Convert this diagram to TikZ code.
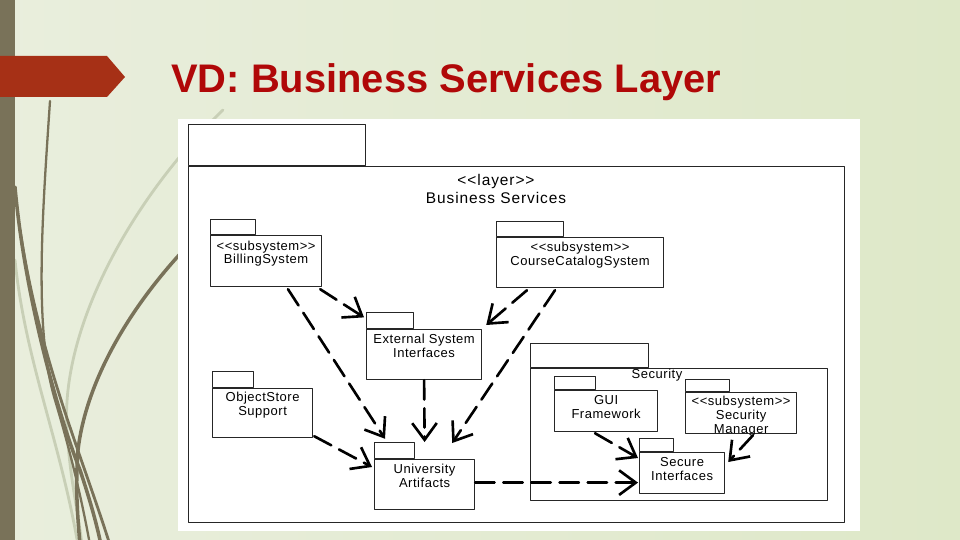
\documentclass[tikz,border=0pt]{standalone}
\usepackage{fontspec}
\setmainfont{Liberation Sans}
\newfontfamily\umlfont[LetterSpace=4]{Liberation Sans}
\newfontfamily\layerfont[LetterSpace=6]{Liberation Sans}
\usepackage{tikz}
\usetikzlibrary{calc,arrows.meta,positioning}

\definecolor{bgleft}{RGB}{233,238,221}
\definecolor{bgright}{RGB}{222,232,200}
\definecolor{barolive}{RGB}{121,114,89}
\definecolor{grasslight}{RGB}{200,207,182}
\definecolor{arrowred}{RGB}{166,48,22}
\definecolor{titlered}{RGB}{176,8,8}
\newcommand\pxu{0.02cm}

\begin{document}
\begin{tikzpicture}[x=0.02cm,y=-0.02cm,
  line cap=round,
  line join=round,
  pkg/.style={draw=black!85,fill=white,line width=0.7pt,inner sep=0pt,anchor=north west},
  pkgtab/.style={draw=black!85,fill=white,line width=0.7pt,inner sep=0pt},
  pkgtext/.style={font=\umlfont\fontsize{7.4}{7.9}\selectfont,align=center,
    inner sep=0pt},
  dep/.style={line width=1.5pt,dash pattern=on 11pt off 5pt,
    -{Straight Barb[length=9.5pt,width=14pt]}}]

  % Folie: Hintergrund
  \useasboundingbox (0,0) rectangle (960,540);
  \shade[left color=bgleft,right color=bgright] (0,0) rectangle (960,540);

  % Graeser links
  \begin{scope}
  \clip (0,0) rectangle (960,540);
  \draw[grasslight,line width=1.6pt] (223,110) .. controls (130,200) and (60,330) .. (67,430)
    .. controls (70,480) and (78,510) .. (82,545);
  \draw[grasslight,line width=1.6pt] (15,260) .. controls (25,360) and (60,440) .. (78,545);
  \draw[barolive,line width=1.3pt] (50,101) .. controls (42,220) and (34,330) .. (55,400)
    .. controls (70,450) and (82,500) .. (90,545);
  \draw[barolive,line width=2pt] (15,187) .. controls (25,300) and (60,420) .. (80,470)
    .. controls (90,500) and (97,525) .. (101,545);
  \draw[barolive,line width=2pt] (180,254) .. controls (120,320) and (85,390) .. (78,450)
    .. controls (75,490) and (78,520) .. (80,545);
  \draw[barolive,line width=1.6pt] (20,230) .. controls (40,360) and (80,450) .. (110,545);
  \end{scope}

  \fill[barolive] (0,0) rectangle (15,540);
  \fill[arrowred] (0,56) -- (107,56) -- (125,77) -- (107,97) -- (0,97) -- cycle;

  % Titel
  \node[anchor=base west,inner sep=0pt,text=titlered,
    font=\fontsize{22.7}{27}\selectfont\bfseries] (title) at (171,93)
    {VD: Business Services Layer};

  % Bild
  \fill[white] (178,119) rectangle (860,531);

  % Schicht Business Services
  \node[pkg,minimum width=656*\pxu,minimum height=356*\pxu] (layer) at (188,166) {};
  \node[pkgtab,minimum width=177*\pxu,minimum height=41*\pxu,
    above right=0pt and 0pt of layer.north west] (layertab) {};
  \node[inner sep=0pt,align=center,font=\layerfont\fontsize{8.8}{9.8}\selectfont]
    (layertxt) at (496,189) {<{}<layer>{}>\\Business Services};

  % Pakete
  \node[pkg,minimum width=111*\pxu,minimum height=51*\pxu] (billing) at (210,235) {};
  \node[pkgtab,minimum width=45*\pxu,minimum height=15*\pxu,
    above right=0pt and 0pt of billing.north west] (billingtab) {};
  \node[pkgtext,below=3pt of billing.north] (billingtxt) {<{}<subsystem>{}>\\BillingSystem};

  \node[pkg,minimum width=167*\pxu,minimum height=50*\pxu] (course) at (496,237) {};
  \node[pkgtab,minimum width=67*\pxu,minimum height=15*\pxu,
    above right=0pt and 0pt of course.north west] (coursetab) {};
  \node[pkgtext,below=2.7pt of course.north] (coursetxt) {<{}<subsystem>{}>\\CourseCatalogSystem};

  \node[pkg,minimum width=115*\pxu,minimum height=50*\pxu] (extsys) at (366,329) {};
  \node[pkgtab,minimum width=47*\pxu,minimum height=16*\pxu,
    above right=0pt and 0pt of extsys.north west] (extsystab) {};
  \node[pkgtext,below=2.5pt of extsys.north] (extsystxt) {External System\\Interfaces};

  \node[pkg,minimum width=100*\pxu,minimum height=49*\pxu] (objstore) at (212,388) {};
  \node[pkgtab,minimum width=41*\pxu,minimum height=16*\pxu,
    above right=0pt and 0pt of objstore.north west] (objstoretab) {};
  \node[pkgtext,below=2pt of objstore.north] (objstoretxt) {ObjectStore\\Support};

  \node[pkg,minimum width=100*\pxu,minimum height=50*\pxu] (univ) at (374,459) {};
  \node[pkgtab,minimum width=40*\pxu,minimum height=16*\pxu,
    above right=0pt and 0pt of univ.north west] (univtab) {};
  \node[pkgtext,below=2.5pt of univ.north] (univtxt) {University\\Artifacts};

  % Paket Security
  \node[pkg,minimum width=297*\pxu,minimum height=132*\pxu] (security) at (530,368) {};
  \node[pkgtab,minimum width=118*\pxu,minimum height=24*\pxu,
    above right=0pt and 0pt of security.north west] (securitytab) {};
  \node[pkgtext] (securitytxt) at (657,375) {Security};

  \node[pkg,minimum width=103*\pxu,minimum height=41*\pxu] (gui) at (554,390) {};
  \node[pkgtab,minimum width=41*\pxu,minimum height=13*\pxu,
    above right=0pt and 0pt of gui.north west] (guitab) {};
  \node[pkgtext,below=3pt of gui.north] (guitxt) {GUI\\Framework};

  \node[pkg,minimum width=111*\pxu,minimum height=41*\pxu] (secmgr) at (685,392) {};
  \node[pkgtab,minimum width=44*\pxu,minimum height=12*\pxu,
    above right=0pt and 0pt of secmgr.north west] (secmgrtab) {};
  \node[pkgtext,below=2pt of secmgr.north] (secmgrtxt)
    {<{}<subsystem>{}>\\Security\\Manager};

  \node[pkg,minimum width=85*\pxu,minimum height=41*\pxu] (secure) at (639,452) {};
  \node[pkgtab,minimum width=34*\pxu,minimum height=13*\pxu,
    above right=0pt and 0pt of secure.north west] (securetab) {};
  \node[pkgtext,below=3pt of secure.north] (securetxt) {Secure\\Interfaces};

  % Abhaengigkeiten
  \draw[dep] ($(billing.south west)+(78,2)$) -- ($(univtab.north west)+(11,-3)$);
  \draw[dep] ($(billing.south east)+(-2,2)$) -- ($(extsystab.west)+(-2,-3)$);
  \draw[dep] ($(course.south west)+(31,2)$) -- ($(extsys.north east)+(4,-4)$);
  \draw[dep] ($(course.south west)+(59,2)$) -- ($(univ.north east)+(-23,-16)$);
  \draw[dep] (extsys.south) -- ($(univ.north)+(0,-17)$);
  \draw[dep] ($(objstore.south east)+(1,-2)$) -- ($(univ.north west)+(-2,8)$);
  \draw[dep] ($(univ.east)+(0,-2)$) -- ($(univ.east -| secure.west)+(-1,-2)$);
  \draw[dep] ($(gui.south west)+(41,1)$) -- ($(secure.north west)+(-1,6)$);
  \draw[dep] ($(secmgr.south west)+(68,1)$) -- ($(secure.north east)+(3,10)$);

\end{tikzpicture}
\end{document}
